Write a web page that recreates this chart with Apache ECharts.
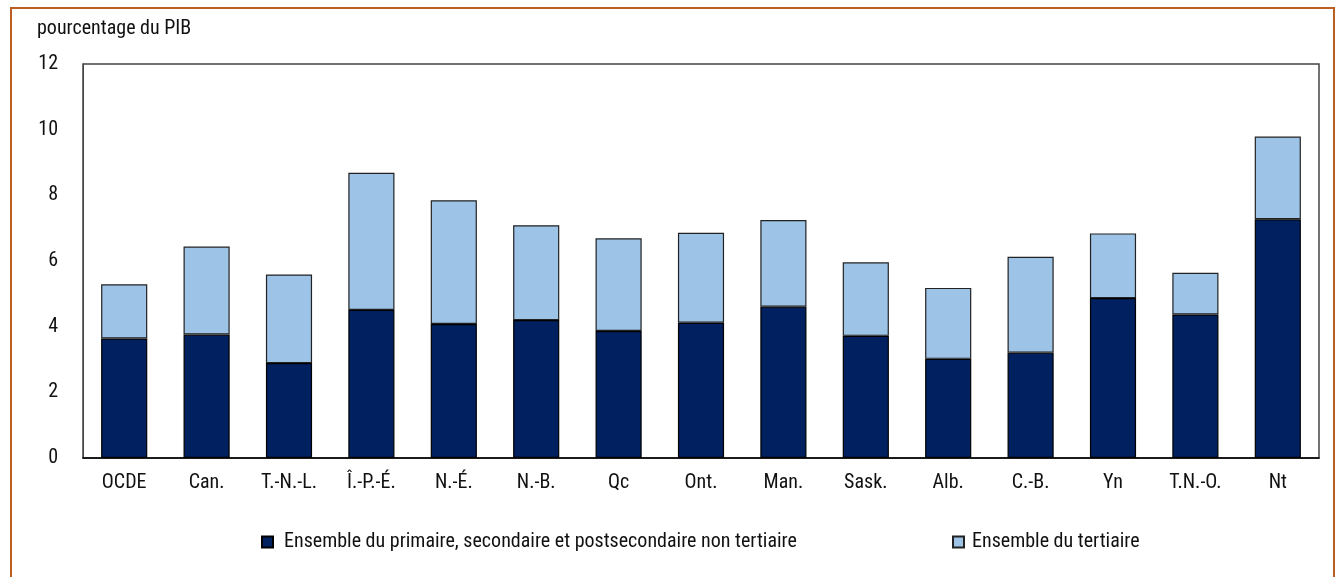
<!DOCTYPE html>
<html><head><meta charset="utf-8">
<script src="https://cdn.jsdelivr.net/npm/echarts@6/dist/echarts.min.js"></script>
<style>html,body{margin:0;padding:0;background:#fff}#c{width:1344px;height:577px}
#frame{position:absolute;left:10px;top:7px;width:1325px;height:580px;border:2px solid #bb5e22;box-sizing:border-box;pointer-events:none}</style>
</head><body><div id="c"></div><div id="frame"></div>
<script>
const categories = ['OCDE','Can.','T.-N.-L.','Î.-P.-É.','N.-É.','N.-B.','Qc','Ont.','Man.','Sask.','Alb.','C.-B.','Yn','T.N.-O.','Nt'];
const nonTertiary = [3.64,3.76,2.89,4.51,4.08,4.20,3.87,4.12,4.61,3.72,3.02,3.21,4.87,4.37,7.27];
const totals = [5.29,6.44,5.59,8.69,7.85,7.09,6.69,6.86,7.25,5.96,5.18,6.13,6.84,5.64,9.79];
const tertiary = totals.map((t,i)=>+(t-nonTertiary[i]).toFixed(2));
const seriesNames = ['Ensemble du primaire, secondaire et postsecondaire non tertiaire','Ensemble du tertiaire'];
const yTicks = [0,2,4,6,8,10,12];
const FONT = '"Roboto Condensed", "Liberation Sans", Arial, sans-serif';
const chart = echarts.init(document.getElementById('c'));
chart.setOption({
  animation:false,
  textStyle:{fontFamily:FONT},
  graphic:[{type:'text',left:37,top:19,style:{text:'pourcentage du PIB',font:'20px '+FONT,fill:'#111'}}],
  legend:[
    {data:[seriesNames[0]],icon:'rect',left:256,top:527,itemWidth:11,itemHeight:11,
     textStyle:{fontSize:20,color:'#111',fontFamily:FONT,padding:[0,0,0,6]}},
    {data:[seriesNames[1]],icon:'rect',left:947,top:527,itemWidth:11,itemHeight:11,
     textStyle:{fontSize:20,color:'#111',fontFamily:FONT,padding:[0,0,0,3]}}
  ],
  grid:{left:83,right:25,top:64,bottom:119,show:true,borderColor:'#444',borderWidth:1.5,backgroundColor:'#fff'},
  xAxis:{type:'category',data:categories,axisTick:{show:false},axisLine:{show:true,lineStyle:{color:'#000',width:1.5}},
    axisLabel:{fontSize:20,color:'#111',margin:15,fontFamily:FONT}},
  yAxis:{type:'value',min:0,max:12,interval:2,splitLine:{show:false},axisLine:{show:true,lineStyle:{color:'#444'}},axisTick:{show:false},
    axisLabel:{fontSize:20,color:'#111',margin:25,fontFamily:FONT,formatter:v=>yTicks.includes(v)?String(v):''}},
  series:[
    {name:seriesNames[0],type:'bar',stack:'a',data:nonTertiary,barWidth:'56%',itemStyle:{color:'#00205f',borderColor:'#000',borderWidth:1.2}},
    {name:seriesNames[1],type:'bar',stack:'a',data:tertiary,barWidth:'56%',itemStyle:{color:'#9dc3e6',borderColor:'#222',borderWidth:1.2}}
  ]
});
</script></body></html>
